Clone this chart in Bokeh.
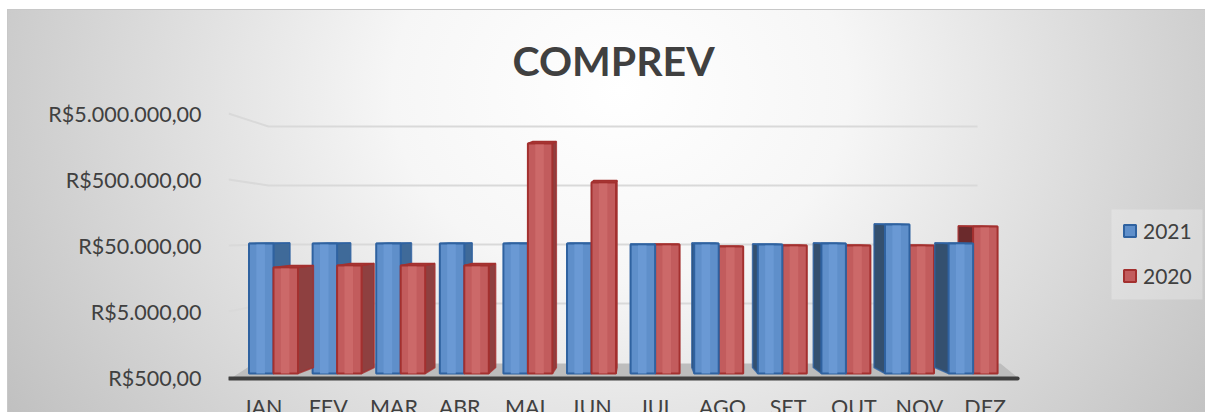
import numpy as np
from bokeh.plotting import figure
from bokeh.embed import file_html
from bokeh.resources import INLINE
from bokeh.models import BoxAnnotation, FixedTicker, Legend, LegendItem, Range1d

title = "COMPREV"
months = ["JAN", "FEV", "MAR", "ABR", "MAI", "JUN", "JUL", "AGO", "SET", "OUT", "NOV", "DEZ"]
series_2021 = [53600, 53600, 53600, 53600, 53600, 53600, 51800, 53600, 51800, 53600, 104000, 53600]
series_2020 = [23200, 24900, 24900, 24900, 1755000, 450000, 51800, 48300, 50000, 50000, 50000, 97000]
tick_values = [500, 5000, 50000, 500000, 5000000]
tick_labels = ["R$500,00", "R$5.000,00", "R$50.000,00", "R$500.000,00", "R$5.000.000,00"]

DEC = 66.0           # px per decade, front plane
BASE = 500.0


def up(v, px):
    """value shifted upward by px on the log axis"""
    return np.asarray(v, dtype=float) * 10 ** (px / DEC)


VANISH = 5.77
DEPTH = 0.045
BAR = 0.385


def back(x):
    return x + DEPTH * (VANISH - x)


css = (":host{background:radial-gradient(ellipse 760px 640px at 620px 90px,"
       "#ffffff 0%,#f6f6f6 30%,#bcbcbc 100%);"
       "box-shadow:inset 7px 9px 0 #ffffff,inset 8px 10px 0 #c8c8c8;}")

p = figure(width=1205, height=412, output_backend="svg", toolbar_location=None,
           y_axis_type="log",
           x_range=Range1d(-0.7075, 14.654),
           y_range=Range1d(float(up(BASE, -35)), float(up(BASE, 277))),
           min_border_left=228, min_border_right=0, min_border_top=100, min_border_bottom=0,
           border_fill_color=None, background_fill_color=None, outline_line_color=None,
           stylesheets=[css])
p.grid.visible = False

# title
p.title.text = title
p.title.text_font = "Lato"
p.title.text_font_size = "41px"
p.title.text_font_style = "bold"
p.title.text_color = "#404040"
p.title.align = "left"
p.title.offset = 284
p.title.standoff = 32

# y axis
ax = p.yaxis[0]
ax.ticker = FixedTicker(ticks=tick_values)
ax.major_label_overrides = {v: s for v, s in zip(tick_values, tick_labels)}
ax.major_label_text_font = "Lato"
ax.major_label_text_font_size = "21.5px"
ax.major_label_text_color = "#404040"
ax.major_label_standoff = 21
ax.axis_line_color = None
ax.major_tick_line_color = None
ax.minor_tick_line_color = None

# x axis, placed on the floor line
tick_x = [-0.173 + 1.033 * i for i in range(len(months))]
xa = p.xaxis[0]
xa.fixed_location = float(up(BASE, -1))
xa.ticker = FixedTicker(ticks=tick_x)
xa.major_label_overrides = {t: m for t, m in zip(tick_x, months)}
xa.major_label_text_font = "Lato"
xa.major_label_text_font_size = "21.5px"
xa.major_label_text_color = "#404040"
xa.major_label_standoff = 9
xa.axis_line_color = None
xa.major_tick_line_color = None
xa.minor_tick_line_color = None

# back-wall grid with left returns
x0, x1, x2 = -0.7075, -0.08, 11.07
gx, gy = [], []
for v in tick_values[1:]:
    d = np.log10(v / BASE)
    front = float(up(BASE, DEC * d))
    rear = float(up(BASE, 15 + 59 * d))
    gx.append([x0, x1, x2])
    gy.append([front, rear, rear])
p.multi_line(gx, gy, line_color="#d9d9d9", line_width=2)

# floor
p.patch([-0.65, 11.7, 11.43, -0.31],
        [float(up(BASE, 0)), float(up(BASE, 0)), float(up(BASE, 14)), float(up(BASE, 14))],
        fill_color="#bdbdbd", line_color=None)
p.line([-0.7, 11.7], [float(up(BASE, -1))] * 2, line_color="#404040", line_width=4, line_cap="round")

BOT = float(up(BASE, 4))
BOT_B = float(up(BASE, 10))

BLUE = dict(front="#5f8fca", strip="#6a99d4", edge="#2f62a0", side_r="#3f6a99", side_l="#34506f", top="#4a78b0")
RED = dict(front="#c25c5d", strip="#cc6969", edge="#a3302f", side_r="#8e4040", side_l="#6b2a2c", top="#a84040")


def draw(idx, values, left_edge, col, on_right, lift):
    idx = np.asarray(idx, dtype=float)
    vals = np.asarray(values, dtype=float)
    xl = idx + left_edge
    xr = xl + BAR
    topb = up(vals, lift)
    sx, sy = [], []
    tx, ty = [], []
    for a, b, t, tb in zip(xl, xr, vals, topb):
        e = b if on_right else a
        sx.append([e, back(e), back(e), e])
        sy.append([BOT, BOT_B, tb, t])
        tx.append([a, b, back(b), back(a)])
        ty.append([t, t, tb, tb])
    p.patches(sx, sy, fill_color=col["side_r"] if on_right else col["side_l"],
              line_color=col["edge"], line_width=1.5, line_alpha=0.8)
    p.patches(tx, ty, fill_color=col["top"], line_color=col["edge"], line_width=1.5)
    f = p.quad(left=xl, right=xr, bottom=BOT, top=vals, fill_color=col["front"],
               line_color=col["edge"], line_width=2)
    p.quad(left=xl + BAR * 0.3, right=xr - BAR * 0.35, bottom=BOT, top=up(vals, -1),
           fill_color=col["strip"], line_color=None)
    return f


n = len(months)
left = list(range(0, 6))
right = list(range(6, n))
blue_r = draw(left, [series_2021[i] for i in left], -BAR, BLUE, True, 0.5)
red_r = draw(left, [series_2020[i] for i in left], 0.0, RED, True, 2)
draw(right, [series_2020[i] for i in right], 0.0, RED, False, 0.5)
draw(right, [series_2021[i] for i in right], -BAR, BLUE, False, 0.5)

# legend panel
p.add_layout(BoxAnnotation(left=1111, right=1202, top=209, bottom=299,
                           left_units="canvas", right_units="canvas",
                           top_units="canvas", bottom_units="canvas",
                           fill_color="#ffffff", fill_alpha=0.25, line_color=None,
                           level="underlay"))

legend = Legend(items=[LegendItem(label="2021", renderers=[blue_r]),
                       LegendItem(label="2020", renderers=[red_r])],
                location=(894, 124), orientation="vertical",
                background_fill_alpha=0, border_line_color=None,
                padding=0, margin=0, spacing=20,
                glyph_width=15, glyph_height=15, label_standoff=6,
                label_text_font="Lato", label_text_font_size="21px",
                label_text_color="#404040")
p.add_layout(legend, "center")

open("out.html", "w").write(file_html(p, INLINE))
